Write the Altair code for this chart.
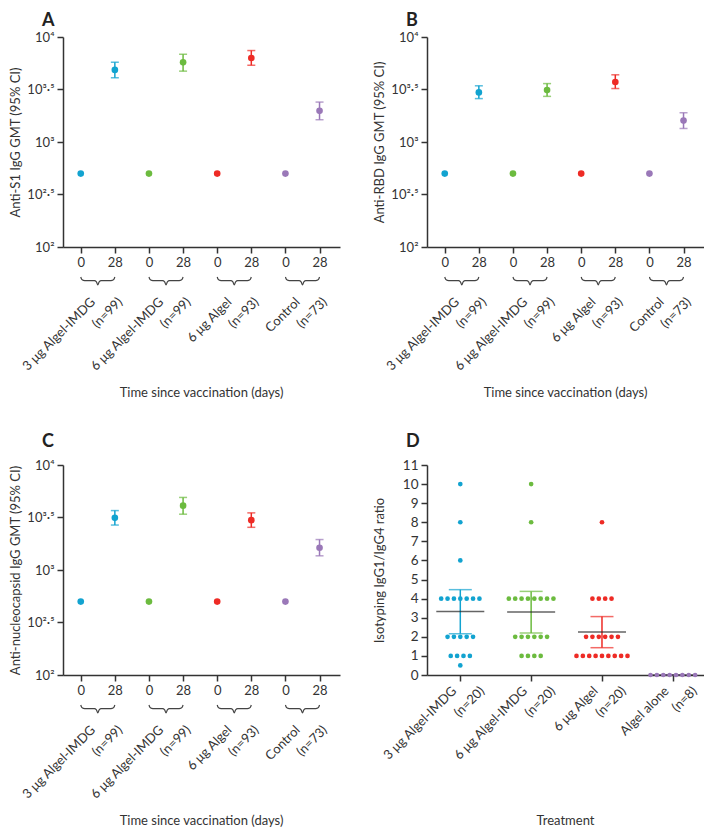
import altair as alt
import pandas as pd

# ---------------- data ----------------
groups = ["3 μg Algel-IMDG", "6 μg Algel-IMDG", "6 μg Algel", "Control"]
n_gmt = ["(n=99)", "(n=99)", "(n=93)", "(n=73)"]
colors = ["#12a3d0", "#6cbb3f", "#ee2b25", "#9a78b8"]

baseline_gmt = [500, 500, 500, 500]

s1_gmt = [4860, 5740, 6310, 1980]
s1_lo = [4090, 4730, 5380, 1630]
s1_hi = [5750, 6850, 7430, 2400]

rbd_gmt = [2965, 3120, 3730, 1600]
rbd_lo = [2590, 2720, 3230, 1345]
rbd_hi = [3430, 3600, 4365, 1900]

nc_gmt = [3140, 4100, 2985, 1630]
nc_lo = [2680, 3400, 2550, 1365]
nc_hi = [3680, 4910, 3500, 1950]

iso_groups = ["3 μg Algel-IMDG", "6 μg Algel-IMDG", "6 μg Algel", "Algel alone"]
iso_n = ["(n=20)", "(n=20)", "(n=20)", "(n=8)"]
iso_values = [
    [10, 8, 6, 4, 4, 4, 4, 4, 4, 4, 2, 2, 2, 2, 2, 1, 1, 1, 1, 0.5],
    [10, 8, 4, 4, 4, 4, 4, 4, 4, 4, 2, 2, 2, 2, 2, 2, 1, 1, 1, 1],
    [8, 4, 4, 4, 4, 2, 2, 2, 2, 2, 2, 1, 1, 1, 1, 1, 1, 1, 1, 1],
    [0, 0, 0, 0, 0, 0, 0, 0],
]
iso_mean = [3.33, 3.30, 2.25, 0]
iso_lo = [2.16, 2.20, 1.43, 0]
iso_hi = [4.47, 4.38, 3.06, 0]

gmt_ticks = [100, 316.2278, 1000, 3162.278, 10000]
iso_ticks = [0, 1, 2, 3, 4, 5, 6, 7, 8, 9, 10, 11]

# brace glyph template (relative shape)
brace_t = [0, 0.03, 0.08, 0.15, 0.40, 0.46, 0.5, 0.54, 0.60, 0.85, 0.92, 0.97, 1]
brace_d = [0, 0.3, 0.42, 0.45, 0.45, 0.6, 1.0, 0.6, 0.45, 0.45, 0.42, 0.3, 0]

# ---------------- style ----------------
FONT = "Lato"
TXT = "#333333"
W, H = 277, 210
YT_X = -48


def letter_layer(letter, ly):
    return alt.Chart(pd.DataFrame({"t": [letter]})).mark_text(
        align="left", baseline="top", fontSize=18, fontWeight="bold", font=FONT, color="#222"
    ).encode(x=alt.value(-21), y=alt.value(ly), text="t:N")


def xtitle_layer(title):
    return alt.Chart(pd.DataFrame({"t": [title]})).mark_text(
        align="center", baseline="middle", fontSize=13, font=FONT, color=TXT
    ).encode(x=alt.value(W / 2), y=alt.value(H + 146), text="t:N")


def gmt_panel(letter, ly, ytitle, gmt, lo, hi):
    pts = pd.DataFrame({
        "x": [2 * g + d for g in range(4) for d in (0, 1)],
        "v": [baseline_gmt[g] if d == 0 else gmt[g] for g in range(4) for d in (0, 1)],
        "grp": [groups[g] for g in range(4) for d in (0, 1)],
    })
    err = pd.DataFrame({"x": [2 * g + 1 for g in range(4)], "lo": lo, "hi": hi, "grp": groups})
    lab = pd.DataFrame({"x": [2 * g + 0.5 for g in range(4)], "name": groups, "n": n_gmt})
    br = pd.DataFrame({
        "x": [2 * g + t for g in range(4) for t in brace_t],
        "d": [d for g in range(4) for d in brace_d],
        "g": [g for g in range(4) for t in brace_t],
    })

    color = alt.Color("grp:N", scale=alt.Scale(domain=groups, range=colors), legend=None)
    xs = alt.Scale(domain=[-0.52, 7.6], nice=False, zero=False)
    ys = alt.Scale(type="log", domain=[100, 10000], nice=False)
    xaxis = alt.Axis(values=list(range(8)), labelExpr="datum.value % 2 == 0 ? '0' : '28'",
                     title=None, grid=False, labelAngle=0, labelOverlap=False)
    yaxis = alt.Axis(values=gmt_ticks, grid=False, title=ytitle, labelOverlap=False,
                     labelExpr="datum.value < 200 ? '10²' : datum.value < 500 ? '10²·⁵' : "
                               "datum.value < 2000 ? '10³' : datum.value < 5000 ? '10³·⁵' : '10⁴'",
                     titleX=YT_X, titleY=H / 2, titleAngle=270, titleBaseline="middle",
                     titleAlign="center")

    def X(f):
        return alt.X(f, scale=xs, axis=xaxis)

    def Y(f):
        return alt.Y(f, scale=ys, axis=yaxis)

    points = alt.Chart(pts).mark_circle(size=44, opacity=1).encode(
        x=X("x:Q"), y=Y("v:Q"), color=color)
    rules = alt.Chart(err).mark_rule(strokeWidth=1.5).encode(
        x=X("x:Q"), y=Y("lo:Q"), y2="hi:Q", color=color)
    cap_lo = alt.Chart(err).mark_tick(orient="horizontal", size=8, thickness=1.5).encode(
        x=X("x:Q"), y=Y("lo:Q"), color=color)
    cap_hi = alt.Chart(err).mark_tick(orient="horizontal", size=8, thickness=1.5).encode(
        x=X("x:Q"), y=Y("hi:Q"), color=color)
    main = alt.layer(points, rules, cap_lo, cap_hi)

    braces = alt.Chart(br).mark_line(strokeWidth=1.2, color="#444", interpolate="monotone").encode(
        x=X("x:Q"),
        y=alt.Y("d:Q", scale=alt.Scale(domain=[0, 1], range=[H + 30, H + 38]), axis=None),
        detail="g:N")

    l1 = alt.Chart(lab).mark_text(angle=315, align="right", baseline="middle", dx=-6.4,
                                  fontSize=13, font=FONT, color=TXT).encode(
        x=X("x:Q"), y=alt.value(H + 48.5), text="name:N")
    l2 = alt.Chart(lab).mark_text(angle=315, align="right", baseline="middle", dx=12.7, dy=19.1,
                                  fontSize=13, font=FONT, color=TXT).encode(
        x=X("x:Q"), y=alt.value(H + 48.5), text="n:N")

    return alt.layer(main, braces, l1, l2, letter_layer(letter, ly),
                     xtitle_layer("Time since vaccination (days)")).resolve_scale(
        y="independent").properties(width=W, height=H)


def iso_panel(ly):
    rows = []
    for g, vals in enumerate(iso_values):
        counts = {}
        for v in vals:
            counts[v] = counts.get(v, 0) + 1
        seen = {}
        for v in vals:
            i = seen.get(v, 0)
            seen[v] = i + 1
            k = counts[v]
            rows.append({"x": g + (i - (k - 1) / 2) * 0.09, "v": v, "grp": iso_groups[g]})
    pts = pd.DataFrame(rows)
    stats = pd.DataFrame({"x": [0, 1, 2, 3], "m": iso_mean, "lo": iso_lo, "hi": iso_hi,
                          "grp": iso_groups})
    lab = pd.DataFrame({"x": [0, 1, 2, 3], "name": iso_groups, "n": iso_n})

    color = alt.Color("grp:N", scale=alt.Scale(domain=iso_groups, range=colors), legend=None)
    xs = alt.Scale(domain=[-0.47, 3.44], nice=False, zero=False)
    ys = alt.Scale(domain=[0, 11], nice=False)
    xaxis = alt.Axis(values=[0, 1, 2, 3], labels=False, title=None, grid=False)
    yaxis = alt.Axis(values=iso_ticks, grid=False, title="Isotyping IgG1/IgG4 ratio",
                     labelOverlap=False, labelFontSize=13.5,
                     titleX=YT_X, titleY=H / 2, titleAngle=270, titleBaseline="middle",
                     titleAlign="center")

    def X(f):
        return alt.X(f, scale=xs, axis=xaxis)

    def Y(f):
        return alt.Y(f, scale=ys, axis=yaxis)

    points = alt.Chart(pts).mark_circle(size=22, opacity=1).encode(
        x=X("x:Q"), y=Y("v:Q"), color=color)
    rules = alt.Chart(stats).mark_rule(strokeWidth=1.5).encode(
        x=X("x:Q"), y=Y("lo:Q"), y2="hi:Q", color=color)
    cap_lo = alt.Chart(stats).mark_tick(orient="horizontal", size=23, thickness=1.5).encode(
        x=X("x:Q"), y=Y("lo:Q"), color=color)
    cap_hi = alt.Chart(stats).mark_tick(orient="horizontal", size=23, thickness=1.5).encode(
        x=X("x:Q"), y=Y("hi:Q"), color=color)
    mean = alt.Chart(stats).mark_tick(orient="horizontal", size=48, thickness=1.5, color="#222").encode(
        x=X("x:Q"), y=Y("m:Q"))

    l1 = alt.Chart(lab).mark_text(angle=315, align="right", baseline="middle", dx=-8.5,
                                  fontSize=13, font=FONT, color=TXT).encode(
        x=X("x:Q"), y=alt.value(H + 8), text="name:N")
    l2 = alt.Chart(lab).mark_text(angle=315, align="right", baseline="middle", dx=11.3, dy=19.8,
                                  fontSize=13, font=FONT, color=TXT).encode(
        x=X("x:Q"), y=alt.value(H + 8), text="n:N")

    return alt.layer(rules, cap_lo, cap_hi, mean, points, l1, l2, letter_layer("D", ly),
                     xtitle_layer("Treatment")).properties(width=W, height=H)


A = gmt_panel("A", -25, "Anti-S1 IgG GMT (95% CI)", s1_gmt, s1_lo, s1_hi)
B = gmt_panel("B", -25, "Anti-RBD IgG GMT (95% CI)", rbd_gmt, rbd_lo, rbd_hi)
C = gmt_panel("C", -32, "Anti-nucleocapsid IgG GMT (95% CI)", nc_gmt, nc_lo, nc_hi)
D = iso_panel(-32)

chart = alt.concat(
    A, B, C, D, columns=2, spacing={"row": 218, "column": 87}, bounds="flush"
).resolve_scale(
    color="independent"
).properties(
    padding={"top": 4, "left": 0, "right": 0, "bottom": 0}
).configure(
    font=FONT
).configure_view(
    stroke=None
).configure_axis(
    domainColor=TXT, domainWidth=1.5, tickColor=TXT, tickWidth=1.5, tickSize=6,
    labelFont=FONT, labelFontSize=13, labelColor=TXT, labelPadding=3, labelOverlap=False,
    titleFont=FONT, titleFontSize=13, titleColor=TXT, titleFontWeight="normal",
)

chart.save("out.html", embed_options={"renderer": "svg", "actions": False})
